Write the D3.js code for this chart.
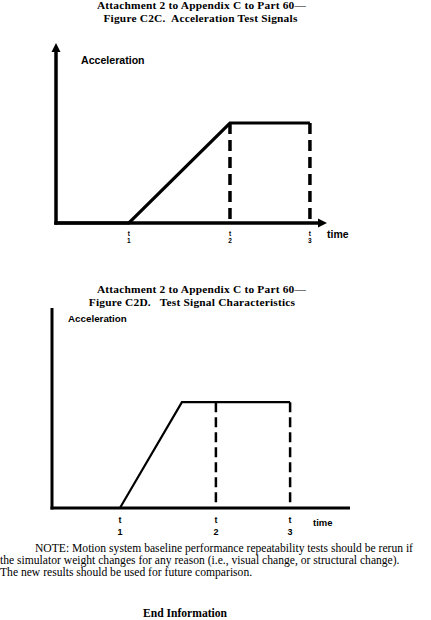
<!DOCTYPE html>
<html>
<head>
<meta charset="utf-8">
<script src="https://cdn.jsdelivr.net/npm/d3@7"></script>
<style>
  html, body { margin: 0; padding: 0; background: #fff; }
  svg { display: block; }
</style>
</head>
<body>
<div id="chart"></div>
<script>
// ---- Data ----
const titleC = ["Attachment 2 to Appendix C to Part 60\u2014", "Figure C2C.  Acceleration Test Signals"];
const titleD = ["Attachment 2 to Appendix C to Part 60\u2014", "Figure C2D.   Test Signal Characteristics"];
const tickLabels = ["1", "2", "3"];
const yLabel = "Acceleration";
const xLabel = "time";

// Figure C2C: signal points (time, acceleration)
const c2cTimes = [0, 2.69, 6.42, 9.37];
const c2cAccel = [0, 0, 1, 1];
const c2cTicks = [2.69, 6.42, 9.37];
const c2cDashed = [6.42, 9.37];

// Figure C2D
const c2dTimes = [0, 2.28, 4.36, 7.99];
const c2dAccel = [0, 0, 1, 1];
const c2dTicks = [2.28, 5.50, 7.99];
const c2dDashed = [5.50, 7.99];

const noteLines = [
  "NOTE: Motion system baseline performance repeatability tests should be rerun if",
  "the simulator weight changes for any reason (i.e., visual change, or structural change).",
  "The new results should be used for future comparison."
];
const endText = "End Information";

// ---- Drawing ----
const W = 431, H = 620;
const svg = d3.select("#chart").append("svg").attr("width", W).attr("height", H);
const serif = "'Liberation Serif', 'Times New Roman', serif";
const sans = "'Liberation Sans', Arial, sans-serif";

function titles(lines, cxs, ys) {
  svg.append("g").selectAll("text").data(lines).join("text")
    .attr("x", (d, i) => cxs[i]).attr("y", (d, i) => ys[i])
    .attr("text-anchor", "middle")
    .attr("font-family", serif).attr("font-weight", "bold").attr("font-size", 11.4)
    .attr("letter-spacing", 0.2)
    .style("white-space", "pre")
    .text(d => d);
}

function figure(opt) {
  const x = d3.scaleLinear().domain([0, 10]).range(opt.xr);
  const y = d3.scaleLinear().domain([0, opt.ymax]).range(opt.yr);
  const g = svg.append("g");
  const x0 = x(0), yb = y(0);

  // axes
  const yTop = opt.arrows ? y(opt.ymax) + 7 : y(opt.ymax);
  const xEnd = opt.arrows ? x(10) - 7 : x(10);
  g.append("line").attr("x1", x0).attr("x2", x0).attr("y1", yb + opt.axisW / 2).attr("y2", yTop)
    .attr("stroke", "#000").attr("stroke-width", opt.axisW);
  g.append("line").attr("x1", x0 - opt.axisW / 2).attr("x2", xEnd).attr("y1", yb).attr("y2", yb)
    .attr("stroke", "#000").attr("stroke-width", opt.axisW);
  if (opt.arrows) {
    const p1 = d3.path();
    p1.moveTo(x0, y(opt.ymax)); p1.lineTo(x0 + 4.5, y(opt.ymax) + 9); p1.lineTo(x0 - 4.5, y(opt.ymax) + 9); p1.closePath();
    g.append("path").attr("d", p1.toString()).attr("fill", "#000");
    const p2 = d3.path();
    p2.moveTo(x(10), yb); p2.lineTo(x(10) - 9, yb - 4.5); p2.lineTo(x(10) - 9, yb + 4.5); p2.closePath();
    g.append("path").attr("d", p2.toString()).attr("fill", "#000");
  }

  // dashed verticals
  g.selectAll(".dash").data(opt.dashed).join("line")
    .attr("x1", d => x(d)).attr("x2", d => x(d))
    .attr("y1", y(1)).attr("y2", yb)
    .attr("stroke", "#000").attr("stroke-width", opt.dashW)
    .attr("stroke-dasharray", opt.dashArr);

  // signal
  const pts = opt.times.map((t, i) => [t, opt.accel[i]]);
  g.append("path").datum(pts)
    .attr("d", d3.line().x(d => x(d[0])).y(d => y(d[1])))
    .attr("fill", "none").attr("stroke", "#000").attr("stroke-width", opt.lineW)
    .attr("stroke-linejoin", "miter");

  // labels
  g.append("text").attr("x", opt.yLab[0]).attr("y", opt.yLab[1])
    .attr("font-family", sans).attr("font-weight", "bold").attr("font-size", opt.yLabFs)
    .text(yLabel);
  g.append("text").attr("x", opt.xLab[0]).attr("y", opt.xLab[1])
    .attr("font-family", sans).attr("font-weight", "bold").attr("font-size", opt.xLabFs)
    .text(xLabel);

  const tk = g.selectAll(".tk").data(opt.ticks).join("g");
  tk.append("text").attr("x", d => x(d)).attr("y", yb + opt.tY[0])
    .attr("text-anchor", "middle").attr("font-family", sans).attr("font-weight", "bold")
    .attr("font-size", opt.tickFs).text("t");
  tk.append("text").attr("x", d => x(d)).attr("y", yb + opt.tY[1])
    .attr("text-anchor", "middle").attr("font-family", sans).attr("font-weight", "bold")
    .attr("font-size", opt.tickFs).text((d, i) => tickLabels[i]);
}

titles(titleC, [201.5, 200.5], [9, 22]);
figure({
  xr: [56, 327], yr: [223, 43], ymax: 1.8, arrows: true,
  times: c2cTimes, accel: c2cAccel, ticks: c2cTicks, dashed: c2cDashed,
  axisW: 3.5, lineW: 3.2, dashW: 3.5, dashArr: "11,6",
  yLab: [81, 64], xLab: [327, 238], yLabFs: 10.6, xLabFs: 10.5,
  tickFs: 6.5, tY: [13, 20]
});

titles(titleD, [201.5, 192], [292.5, 305.5]);
figure({
  xr: [52, 350], yr: [508, 308], ymax: 1.89, arrows: false,
  times: c2dTimes, accel: c2dAccel, ticks: c2dTicks, dashed: c2dDashed,
  axisW: 3, lineW: 2.2, dashW: 2.5, dashArr: "10,5",
  yLab: [68, 322], xLab: [313, 526], yLabFs: 9.8, xLabFs: 9.5,
  tickFs: 9, tY: [15, 27]
});

// note
svg.append("g").selectAll("text").data(noteLines).join("text")
  .attr("x", (d, i) => i === 0 ? 35 : 0)
  .attr("y", (d, i) => 552 + i * 11.8)
  .attr("font-family", serif).attr("font-size", 11.6)
  .text(d => d);
svg.append("text").attr("x", 185).attr("y", 617).attr("text-anchor", "middle")
  .attr("font-family", serif).attr("font-weight", "bold").attr("font-size", 11.6)
  .text(endText);
</script>
</body>
</html>
